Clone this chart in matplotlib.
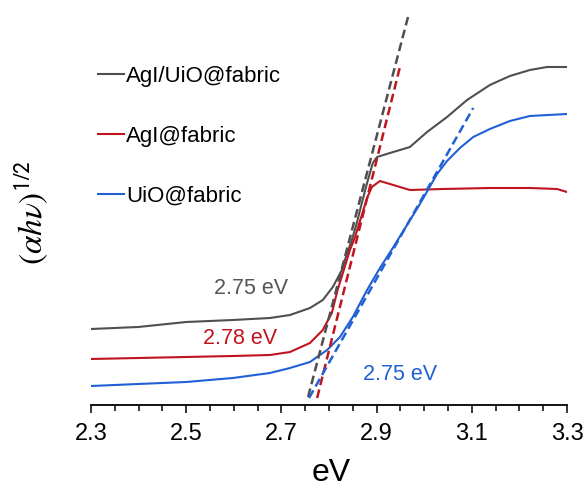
import matplotlib

matplotlib.use("Agg")
import matplotlib.pyplot as plt
from matplotlib.ticker import MultipleLocator

GRAY = "#4f4f4f"
RED = "#c0141e"
BLUE = "#2160d4"

plt.rcParams.update({
    "font.family": ["Liberation Sans", "DejaVu Sans"],
    "mathtext.fontset": "stix",
})

# AgI/UiO@fabric
x_agi_uio = [2.300, 2.399, 2.500, 2.598, 2.676, 2.718, 2.760, 2.787, 2.808,
             2.827, 2.838, 2.848, 2.859, 2.869, 2.880, 2.892, 2.901, 2.928,
             2.970, 3.006, 3.048, 3.090, 3.138, 3.180, 3.222, 3.258, 3.300]
y_agi_uio = [0.76, 0.78, 0.83, 0.85, 0.87, 0.90, 0.97, 1.05, 1.18,
             1.35, 1.52, 1.65, 1.83, 2.02, 2.22, 2.42, 2.48, 2.52,
             2.58, 2.73, 2.88, 3.05, 3.20, 3.29, 3.35, 3.38, 3.38]

# AgI@fabric
x_agi = [2.300, 2.399, 2.500, 2.598, 2.676, 2.718, 2.760, 2.787, 2.806, 2.818,
         2.833, 2.844, 2.854, 2.869, 2.880, 2.890, 2.907, 2.935, 2.970, 3.039,
         3.138, 3.222, 3.279, 3.300]
y_agi = [0.46, 0.47, 0.48, 0.49, 0.50, 0.53, 0.62, 0.75, 0.92, 1.15,
         1.38, 1.55, 1.67, 1.90, 2.07, 2.18, 2.24, 2.20, 2.15, 2.16,
         2.17, 2.17, 2.16, 2.13]

# UiO@fabric
x_uio = [2.300, 2.399, 2.500, 2.598, 2.676, 2.718, 2.760, 2.796, 2.823, 2.850,
         2.880, 2.907, 2.934, 2.960, 2.991, 3.027, 3.048, 3.075, 3.103, 3.138,
         3.180, 3.222, 3.300]
y_uio = [0.19, 0.21, 0.23, 0.27, 0.32, 0.37, 0.43, 0.55, 0.68, 0.88,
         1.15, 1.37, 1.57, 1.77, 2.01, 2.31, 2.44, 2.57, 2.68, 2.76,
         2.84, 2.89, 2.91]

# Tauc tangent lines
tan_agi_uio_x = [2.756, 2.966]
tan_agi_uio_y = [0.08, 3.88]
tan_agi_x = [2.775, 2.949]
tan_agi_y = [0.07, 3.38]
tan_uio_x = [2.758, 3.103]
tan_uio_y = [0.07, 2.97]

W, H = 587, 487
fig = plt.figure(figsize=(W / 100, H / 100), dpi=100)
ax = fig.add_axes([91 / W, (H - 405) / H, 476 / W, 390 / H])

ax.plot(x_agi_uio, y_agi_uio, color=GRAY, lw=1.5, label="AgI/UiO@fabric")
ax.plot(x_agi, y_agi, color=RED, lw=1.5, label="AgI@fabric")
ax.plot(x_uio, y_uio, color=BLUE, lw=1.5, label="UiO@fabric")

dash = (0, (3.5, 1.8))
ax.plot(tan_agi_uio_x, tan_agi_uio_y, color=GRAY, lw=1.8, ls=dash, clip_on=False)
ax.plot(tan_agi_x, tan_agi_y, color=RED, lw=1.8, ls=dash, clip_on=False)
ax.plot(tan_uio_x, tan_uio_y, color=BLUE, lw=1.8, ls=dash, clip_on=False)

ax.text(2.637, 1.16, "2.75 eV", color="#555555", fontsize=15.5, ha="center", va="center")
ax.text(2.614, 0.67, "2.78 eV", color=RED, fontsize=15.5, ha="center", va="center")
ax.text(2.949, 0.31, "2.75 eV", color=BLUE, fontsize=15.5, ha="center", va="center")

ax.set_xlim(2.3, 3.3)
ax.set_ylim(0, 3.9)
ax.xaxis.set_minor_locator(MultipleLocator(0.05))
ax.set_xticks([2.3, 2.5, 2.7, 2.9, 3.1, 3.3])
ax.set_xticklabels(["2.3", "2.5", "2.7", "2.9", "3.1", "3.3"])
ax.tick_params(axis="x", which="major", length=6, width=1.1, labelsize=17, pad=7)
ax.tick_params(axis="x", which="minor", length=4, width=1.1)
ax.set_yticks([])
for s in ("top", "right", "left"):
    ax.spines[s].set_visible(False)
ax.spines["bottom"].set_linewidth(1.3)

fig.text(331 / W, 1 - 473 / H, "eV", fontsize=23, ha="center", va="center")
fig.text(31 / W, 1 - 213 / H, r"$(\alpha h\nu)^{\mathsf{1/2}}$", fontsize=24,
         rotation=90, ha="center", va="center")

ax.legend(loc="upper left", bbox_to_anchor=(98 / W, 1 - 66 / H),
          bbox_transform=fig.transFigure, frameon=False, fontsize=16,
          handlelength=1.15, handletextpad=0.1, labelspacing=1.75,
          borderpad=0, borderaxespad=0)

fig.savefig("out.png", dpi=100)
